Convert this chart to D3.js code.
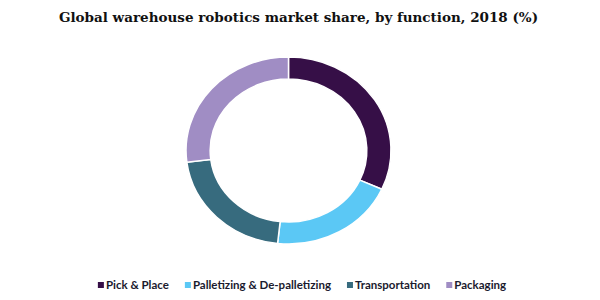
<!DOCTYPE html>
<html lang="en">
<head>
    <meta charset="UTF-8">
    <title>Global warehouse robotics market share</title>
    <script src="https://d3js.org/d3.v7.min.js"></script>
    <style>
        body { margin: 0; background: #fff; }
    </style>
</head>
<body>
    <svg id="chart" width="600" height="300"></svg>

    <script>
        // Datos del gráfico
        const categories = ["Pick & Place", "Palletizing & De-palletizing", "Transportation", "Packaging"];
        const shares = [31.8, 19.9, 21.3, 27.0];
        const colors = ["#360f47", "#5bc8f5", "#376b7e", "#a08dc4"];
        const title = "Global warehouse robotics market share, by function, 2018 (%)";

        const svg = d3.select("#chart");

        // Centro del anillo (ligeramente elíptico como en el original)
        const cx = 288.5, cy = 150.5;
        const outerR = 93.5, innerR = 71.5;
        const stretchX = 1.096;

        svg.append("text")
            .attr("x", 298.5)
            .attr("y", 22)
            .attr("text-anchor", "middle")
            .attr("font-family", "Georgia, 'DejaVu Serif', serif")
            .attr("font-weight", "bold")
            .attr("font-size", 13.5)
            .attr("fill", "#111")
            .text(title);

        const pie = d3.pie().sort(null).value(d => d);
        const arc = d3.arc().innerRadius(innerR).outerRadius(outerR);

        const ring = svg.append("g")
            .attr("transform", `translate(${cx},${cy}) scale(${stretchX},1)`);

        ring.selectAll("path")
            .data(pie(shares))
            .join("path")
            .attr("d", arc)
            .attr("fill", (d, i) => colors[i])
            .attr("stroke", "#fff")
            .attr("stroke-width", 1.5)
            .attr("vector-effect", "non-scaling-stroke");

        // Leyenda
        const legend = svg.append("g").attr("transform", "translate(0,289)");
        const items = legend.selectAll("g")
            .data(categories)
            .join("g");

        items.append("rect")
            .attr("width", 6)
            .attr("height", 6)
            .attr("y", -7)
            .attr("fill", (d, i) => colors[i]);

        items.append("text")
            .attr("x", 8)
            .attr("font-family", "Lato, 'Open Sans', sans-serif")
            .attr("font-weight", "bold")
            .attr("font-size", 11.5)
            .attr("fill", "#1a1a2e")
            .text(d => d);

        let x = 0;
        const offsets = [];
        items.each(function () {
            offsets.push(x);
            x += 8 + d3.select(this).select("text").node().getComputedTextLength() + 16;
        });
        const total = x - 16;
        const start = 302 - total / 2;
        items.attr("transform", (d, i) => `translate(${start + offsets[i]},0)`);
    </script>
</body>
</html>
